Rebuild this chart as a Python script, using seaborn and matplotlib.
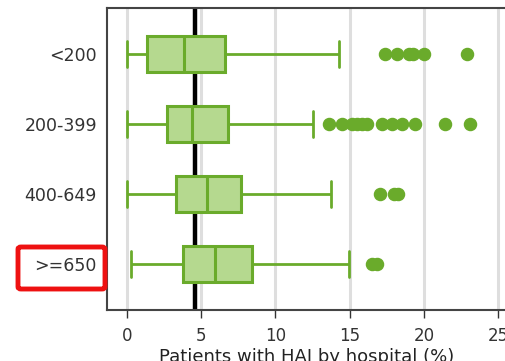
import pandas as pd
import matplotlib
matplotlib.use("Agg")
import matplotlib.pyplot as plt
import seaborn as sns
from matplotlib.patches import FancyBboxPatch

# hospital size groups (beds)
groups = ["<200", "200-399", "400-649", ">=650"]

# box statistics (% patients with HAI)
whisker_low = [0.02, 0.02, 0.02, 0.27]
q1 = [1.35, 2.69, 3.30, 3.79]
median = [3.86, 4.39, 5.38, 5.94]
q3 = [6.62, 6.80, 7.67, 8.45]
whisker_high = [14.29, 12.52, 13.75, 14.94]

outliers = [
    [17.38, 18.19, 18.98, 19.27, 19.99, 22.90],
    [13.60, 14.47, 15.14, 15.48, 15.81, 16.15, 17.16, 17.83, 18.50, 19.40, 21.42, 23.10],
    [17.05, 18.00, 18.28],
    [16.49, 16.82],
]

overall_value = 4.6
x_ticks = [0, 5, 10, 15, 20, 25]

# build a long table whose quartiles reproduce the read-off stats
rows = []
for i, g in enumerate(groups):
    vals = [whisker_low[i]] + [q1[i]] * 40 + [median[i]] * 40 + [q3[i]] * 40 + [whisker_high[i]] + outliers[i]
    for v in vals:
        rows.append({"group": g, "value": v})
df = pd.DataFrame(rows)

sns.set_style("white")
plt.rcParams["font.family"] = ["DejaVu Sans"]

fig = plt.figure(figsize=(5.06, 3.61), dpi=100)
ax = fig.add_axes([107 / 506, 51 / 361, 399 / 506, 302 / 361])

face = "#b5d98f"
edge = "#6aab2b"

for t in x_ticks:
    ax.axvline(t, color="#dedede", lw=2.2, zorder=0)
ax.axvline(overall_value, color="black", lw=3.2, zorder=1)

sns.boxplot(
    data=df, x="value", y="group", order=groups, orient="h",
    width=0.51, whis=1.5, ax=ax, zorder=3,
    boxprops=dict(facecolor=face, edgecolor=edge, linewidth=2.2),
    medianprops=dict(color=edge, linewidth=2.2),
    whiskerprops=dict(color=edge, linewidth=2.0),
    capprops=dict(color=edge, linewidth=2.0),
    flierprops=dict(marker="o", markerfacecolor=edge, markeredgecolor=edge,
                    markersize=8.7),
    capwidths=0.37,
)

ax.set_xlim(-1.33, 25.52)
ax.set_ylim(3.657, -0.657)
ax.set_xticks(x_ticks)
ax.set_xlabel("Patients with HAI by hospital (%)", fontsize=13, color="#222222", labelpad=2.5)
ax.set_ylabel("")

ax.tick_params(axis="x", length=6, width=1, color="#333333", labelsize=12,
               labelcolor="#333333", pad=6, direction="out", bottom=True)
ax.tick_params(axis="y", length=0, labelsize=12.5, labelcolor="#333333", pad=7.2)

for side in ["left", "top", "bottom"]:
    ax.spines[side].set_color("#444444")
    ax.spines[side].set_linewidth(1.5)
ax.spines["right"].set_visible(False)

# red highlight around the largest group label
fig.patches.append(FancyBboxPatch((18 / 506, 72 / 361), 87 / 506, 42 / 361,
                                  boxstyle="round,pad=0,rounding_size=0.006",
                                  transform=fig.transFigure, fill=False,
                                  edgecolor="#ee1111", linewidth=3.5))

fig.savefig("out.png", dpi=100)
